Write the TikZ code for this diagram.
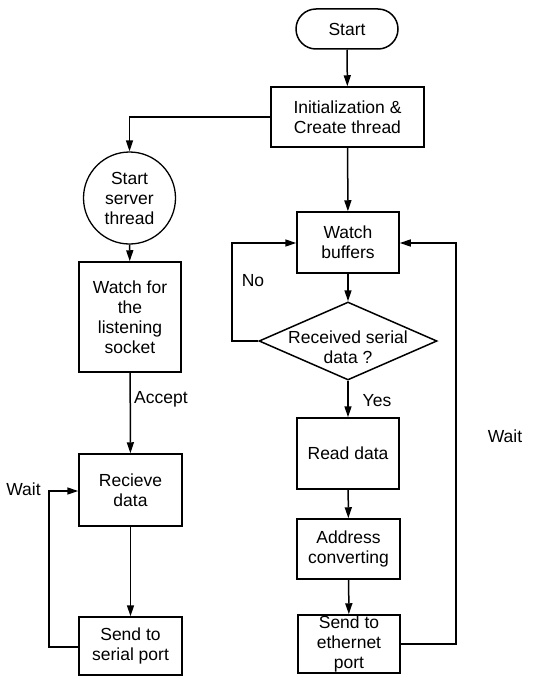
\documentclass[tikz,border=0pt]{standalone}
\usepackage{fontspec}
\setmainfont{Liberation Sans}
\usetikzlibrary{shapes.geometric,arrows.meta}
\begin{document}
\begin{tikzpicture}[x=1pt,y=-1pt,
  every node/.style={font=\fontsize{17.5}{20}\selectfont, align=center, inner sep=0pt},
  box/.style={draw, line width=1.5pt, rectangle},
  term/.style={draw, line width=1.5pt, rectangle, rounded corners=20pt, minimum width=102pt, minimum height=40pt},
  circ/.style={draw, line width=1.3pt, circle, minimum size=92pt},
  dia/.style={draw, line width=1.5pt, diamond, minimum width=178pt, minimum height=78pt},
  conn/.style={line width=1.5pt, -{Triangle[length=11pt,width=7pt]}},
  plain/.style={line width=1.5pt}]
\useasboundingbox (0,0) rectangle (534,677);
% right column
\node[term] (start) at (347,29) {Start};
\node[box, minimum width=153pt, minimum height=60pt] (init) at (347.5,117) {Initialization \&\\Create thread};
\node[box, minimum width=102pt, minimum height=61pt] (wbuf) at (348,242.5) {Watch\\buffers};
\node[dia] (dec) at (348,341) {};
\node (dtext) at (348,347) {Received serial\\data ?};
\node[box, minimum width=102pt, minimum height=71pt] (read) at (348,453.5) {Read data};
\node[box, minimum width=103pt, minimum height=60pt] (addr) at (348.5,549) {Address\\converting};
\node[box, minimum width=102pt, minimum height=58pt] (seth) at (349,644) {Send to\\ethernet\\port};
% left column
\node[circ] (sst) at (129.5,198) {Start\\server\\thread};
\node[box, minimum width=102pt, minimum height=110pt] (wfor) at (130,317) {Watch for\\the\\listening\\socket};
\node[box, minimum width=103pt, minimum height=72pt] (recv) at (130.5,490) {Recieve\\data};
\node[box, minimum width=103pt, minimum height=58pt] (sser) at (130.5,646) {Send to\\serial port};
% labels
\node[anchor=west] (lacc) at (134,399) {Accept};
\node (lwaitl) at (23.5,489) {Wait};
\node (lno) at (253,281) {No};
\node (lyes) at (377,401) {Yes};
\node (lwaitr) at (505,436) {Wait};
% coordinates
\coordinate (c1) at (sst.north |- init.west);
\coordinate (c2) at (49,647);
\coordinate (c3) at (49,491);
\coordinate (c4) at (232,341);
\coordinate (c5) at (232,243);
\coordinate (c6) at (456,644);
\coordinate (c7) at (456,243);
% connectors
\draw[conn] (start) -- (init);
\draw[conn] (init) -- (wbuf);
\draw[conn] (wbuf) -- (dec.north);
\draw[conn] (dec.south) -- (read);
\draw[conn] (read) -- (addr);
\draw[conn] (addr) -- (seth);
\draw[conn] (init.west) -- (c1) -- (sst.north);
\draw[conn] (sst) -- (wfor);
\draw[conn] (wfor) -- (recv);
\draw[conn] (recv) -- (sser);
\draw[conn] (sser.west |- c2) -- (c2) -- (c3) -- (recv.west |- c3);
\draw[conn] (dec.west) -- (c4) -- (c5) -- (wbuf.west |- c5);
\draw[conn] (seth.east) -- (c6) -- (c7) -- (wbuf.east |- c7);
\end{tikzpicture}
\end{document}
